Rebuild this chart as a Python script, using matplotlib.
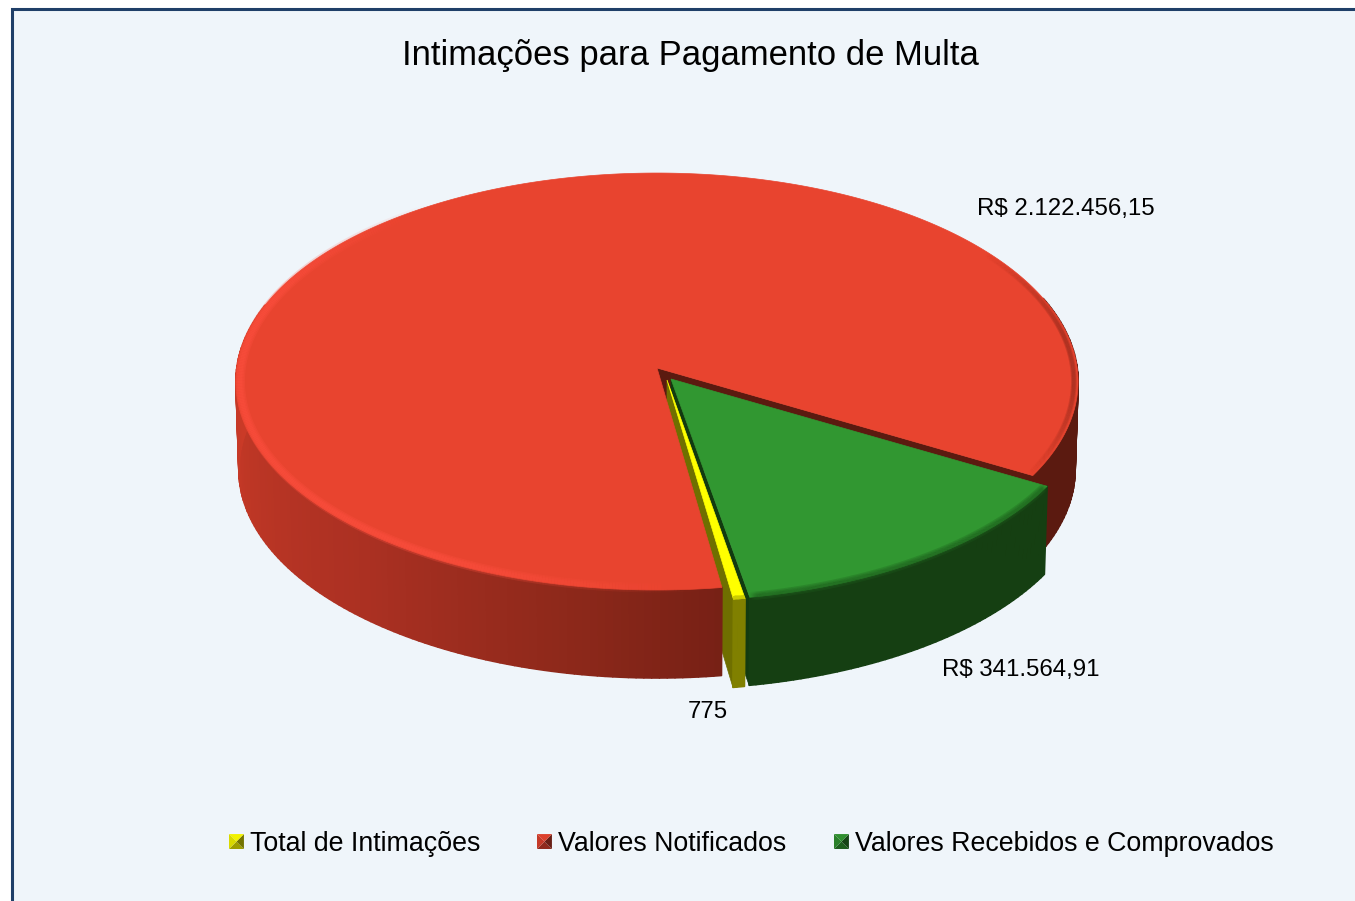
import numpy as np
import matplotlib
matplotlib.use("Agg")
import matplotlib.pyplot as plt
from matplotlib.patches import Polygon, Rectangle
from matplotlib.collections import PolyCollection, LineCollection
from matplotlib.legend_handler import HandlerBase
from matplotlib.colors import to_rgb

plt.rcParams['font.family'] = ['Liberation Sans', 'DejaVu Sans']

# ---- data ----
title = "Intimações para Pagamento de Multa"
categories = ["Total de Intimações", "Valores Notificados", "Valores Recebidos e Comprovados"]
values = [775, 2122456.15, 341564.91]
value_labels = ["775", "R$ 2.122.456,15", "R$ 341.564,91"]

# ---- style / layout ----
BG = "#eff5fa"
FRAME = "#1f3f68"
TOP = ["#ffff00", "#e8442f", "#319731"]
SIDE_DARK = ["#808000", "#5b1a10", "#153f12"]
CUT = ["#6f6f00", "#5b1a10", "#123a10"]
CX, CY = 657.0, 368.0          # pie centre on the top plane
B, A, K = 420.2, 207.6, 0.0648  # projective ellipse
DEPTH, SHRINK = 88.0, 0.993
START = 30.0                   # angle where the green slice begins
MIN_SWEEP = 1.5                # tiny slices stay visible
OFFSET = [(10, 12), (0, 0), (14, 11)]
LEGEND_X = [229, 537, 834]


def project(t, r=1.0):
    t = np.radians(t)
    w = 1 - K * r * np.sin(t)
    return B * r * np.cos(t) / w, A * r * np.sin(t) / w


def rim(t, off, r=1.0):
    x, y = project(np.asarray(t, float), r)
    return np.column_stack([CX + x + off[0], CY + y + off[1]])


def lower(pts):
    pts = np.atleast_2d(pts).copy()
    pts[:, 0] = CX + (pts[:, 0] - CX) * SHRINK
    pts[:, 1] += DEPTH
    return pts


def apex(off):
    return np.array([[CX + off[0], CY + off[1]]])


def top_poly(t0, t1, off):
    ts = np.linspace(t0, t1, max(3, int(abs(t1 - t0) * 2)))
    return np.vstack([apex(off), rim(ts, off)])


def cut_face(t, off):
    a = apex(off)
    e = rim([t], off)
    return np.vstack([a, e, lower(e), lower(a)])


def side_strips(ax, t0, t1, off, colfun, z):
    ts = np.append(np.arange(t0, t1, 1.0), t1)
    polys, cols = [], []
    for a, b in zip(ts[:-1], ts[1:]):
        p = rim([a, b], off)
        polys.append(np.vstack([p, lower(p)[::-1]]))
        cols.append(colfun(0.5 * (a + b)))
    ax.add_collection(PolyCollection(polys, facecolors=cols, edgecolors=cols,
                                     linewidths=1.2, zorder=z))


def red_side(t):
    ta = [-20, 31, 81, 100, 130, 160, 185]
    rs = [0x5b, 0x5b, 0x76, 0x8c, 0xaa, 0xbc, 0xca]
    gs = [0x1a, 0x1a, 0x20, 0x28, 0x30, 0x36, 0x3a]
    bs = [0x10, 0x10, 0x15, 0x1a, 0x22, 0x25, 0x27]
    return (np.interp(t, ta, rs) / 255, np.interp(t, ta, gs) / 255, np.interp(t, ta, bs) / 255)


def rim_glow(ax, t0, t1, off, colour, r, widths, alpha, z, fade=25.0):
    """Soft band along the rim of a slice, fading out towards both ends."""
    ts = np.linspace(t0, t1, 360)
    pts = rim(ts, off, r)
    segs = np.stack([pts[:-1], pts[1:]], axis=1)
    mid = 0.5 * (ts[:-1] + ts[1:])
    env = np.clip(np.minimum(mid - t0, t1 - mid) / fade, 0, 1)
    rgb = np.array(to_rgb(colour))
    for w in widths:
        rgba = np.column_stack([np.tile(rgb, (len(mid), 1)), env * alpha])
        ax.add_collection(LineCollection(segs, colors=rgba, linewidths=w, zorder=z,
                                         capstyle='butt'))


class BevelHandler(HandlerBase):
    def create_artists(self, legend, orig, xd, yd, width, height, fontsize, trans):
        base = np.array(to_rgb(orig.get_facecolor()))
        s = min(width, height * 1.1)
        x0 = -xd + (width - s) / 2
        y0 = -yd + (height - s) / 2
        c = (x0 + s / 2, y0 + s / 2)
        corners = [(x0, y0), (x0 + s, y0), (x0 + s, y0 + s), (x0, y0 + s)]
        shades = [0.62, 0.45, 0.95, 0.85]  # bottom, right, top, left
        out = []
        for i, f in enumerate(shades):
            tri = [corners[i], corners[(i + 1) % 4], c]
            out.append(Polygon(tri, closed=True, facecolor=np.clip(base * f, 0, 1),
                               edgecolor='none', transform=trans))
        return out


fig = plt.figure(figsize=(13.55, 9.01), dpi=100, facecolor="white")
ax = fig.add_axes([0, 0, 1, 1])
ax.set_xlim(0, 1355)
ax.set_ylim(901, 0)
ax.axis('off')

ax.add_patch(Rectangle((12, 9), 1400, 950, facecolor=BG, edgecolor=FRAME, lw=2.2, zorder=0))

# slice angles from the values
total = sum(values)
sweep = [v / total * 360 for v in values]
g0, g1 = START, START + sweep[2]
y0, y1 = g1 + 0.1, g1 + 0.1 + max(sweep[0], MIN_SWEEP)
r0 = g1 + 1.8
r1 = r0 + sweep[1] - 1.6

# cut faces lie behind everything else
ax.add_patch(Polygon(cut_face(r1, OFFSET[1]), facecolor=CUT[1], edgecolor=CUT[1], lw=0.5, zorder=0.5))
ax.add_patch(Polygon(cut_face(g1, OFFSET[2]), facecolor=CUT[2], edgecolor=CUT[2], lw=0.5, zorder=0.9))
ax.add_patch(Polygon(cut_face(y1, OFFSET[0]), facecolor=CUT[0], edgecolor=CUT[0], lw=0.5, zorder=1))

# red body
side_strips(ax, r0, 198, OFFSET[1], red_side, 2)
side_strips(ax, -20, r1 - 360, OFFSET[1], red_side, 2)
ax.add_patch(Polygon(top_poly(r0, r1, OFFSET[1]), facecolor=TOP[1], edgecolor=TOP[1], lw=0.5, zorder=3))
rim_glow(ax, 84, 235, OFFSET[1], "#ff5040", 0.99, [7, 5, 3], 0.3, 3.5, fade=35)
rim_glow(ax, -35, 30, OFFSET[1], "#7a2418", 0.99, [4, 2.5], 0.3, 3.5, fade=25)

# green body
side_strips(ax, g0, g1, OFFSET[2], lambda t: to_rgb(SIDE_DARK[2]), 5)
ax.add_patch(Polygon(top_poly(g0, g1, OFFSET[2]), facecolor=TOP[2], edgecolor=TOP[2], lw=0.5, zorder=6))
rim_glow(ax, g0, g1, OFFSET[2], "#1f5f1e", 0.996, [6, 4, 2], 0.3, 6.5, fade=1)

# yellow body (sits in front of the green cut)
side_strips(ax, y0, y1, OFFSET[0], lambda t: to_rgb(SIDE_DARK[0]), 7)
ax.add_patch(Polygon(top_poly(y0, y1, OFFSET[0]), facecolor=TOP[0], edgecolor=TOP[0], lw=0.5, zorder=8))
rim_glow(ax, y0, y1, OFFSET[0], "#a8a800", 0.995, [3], 0.6, 8.5, fade=0.01)

# texts
ax.text(690, 56, title, ha='center', va='center', fontsize=24.93, color='black', zorder=10)
ax.text(1066, 209, value_labels[1], ha='center', va='center', fontsize=17.3, zorder=10)
ax.text(1021, 670, value_labels[2], ha='center', va='center', fontsize=17.3, zorder=10)
ax.text(708, 712, value_labels[0], ha='center', va='center', fontsize=17.3, zorder=10)

# one legend entry per anchor, the gaps in the reference are not equal
for name, colour, x in zip(categories, TOP, LEGEND_X):
    leg = ax.legend([Rectangle((0, 0), 1, 1, facecolor=colour)], [name], loc='center left',
                    bbox_to_anchor=(x / 1355, 1 - 844 / 901), frameon=False,
                    fontsize=19.3, handler_map={Rectangle: BevelHandler()},
                    handlelength=0.557, handleheight=0.557, handletextpad=0.22,
                    borderpad=0, borderaxespad=0)
    leg.set_zorder(10)
    ax.add_artist(leg)
    ax.legend_ = None

fig.savefig("out.png", dpi=100, facecolor=fig.get_facecolor())
